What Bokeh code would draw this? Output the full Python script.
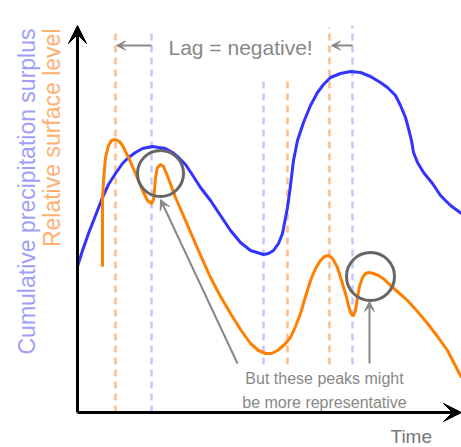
import math
from bokeh.plotting import figure
from bokeh.models import Range1d, Arrow, VeeHead
from bokeh.core.properties import value
from bokeh.embed import file_html
from bokeh.resources import INLINE

# ---- data (time in arbitrary units, level in arbitrary units) ----
blue_t = [0, 5, 11, 18, 25, 31, 38, 45, 51, 58, 65, 75, 81, 88, 95, 101, 108, 114, 123,
          133, 143, 153, 163, 173, 186, 191, 196, 201, 205, 210, 213, 216, 220, 226, 233,
          240, 246, 253, 263, 273, 283, 293, 303, 310, 318, 323, 328, 331, 334, 336, 340,
          346, 355, 363, 373, 384]
blue_v = [146, 162, 179, 197, 215, 228, 239, 249, 255, 260, 264, 266, 265, 264, 260, 255,
          248, 239, 225, 212, 197, 182, 170, 162, 158, 159, 162, 169, 179, 205, 227, 252,
          272, 290, 307, 320, 328, 335, 339, 341, 340, 336, 330, 325, 317, 307, 295, 284,
          272, 260, 250, 240, 229, 217, 207, 199]

orange_t = [25, 25, 25, 26, 28, 31, 34, 38, 42, 45, 51, 58, 65, 70, 74, 76, 77, 78, 80, 83,
            86, 91, 98, 108, 120, 133, 143, 153, 163, 173, 181, 188, 194, 200, 207, 213, 218,
            223, 228, 233, 238, 243, 247, 251, 255, 260, 264, 268, 271, 273, 275, 276, 278,
            280, 282, 285, 288, 291, 296, 301, 307, 313, 321, 330, 340, 350, 360, 370, 384]
orange_v = [146, 182, 212, 232, 255, 267, 272, 273, 271, 267, 255, 239, 222, 212, 209, 213,
            222, 235, 245, 248, 246, 234, 215, 192, 164, 135, 116, 99, 83, 69, 62, 59, 59,
            62, 68, 75, 86, 99, 116, 132, 144, 152, 156, 157, 154, 145, 132, 119, 107, 100,
            97, 97, 102, 115, 126, 135, 139, 140, 139, 137, 133, 127, 120, 112, 101, 89, 76,
            62, 35]

guide_t = [38, 74, 186, 210, 252, 275]
guide_top = [384, 384, 334, 334, 385, 387]
guide_bottom = [0, 0, 48, 48, 48, 48]
guide_kind = ["orange", "blue", "blue", "orange", "orange", "blue"]

circle_t = [83, 293]
circle_v = [239, 136]
circle_r = [23, 24]

lag_t_start = [74, 275]
lag_t_end = [39, 254]
lag_v = 367

note_tail_t = [160, 292]
note_tail_v = [49, 49]
note_tip_t = [83, 292]
note_tip_v = [213, 111]

BLUE = "#3333ff"
ORANGE = "#ff8000"
BLUE_LIGHT = "#c4c4ff"
ORANGE_LIGHT = "#ffbb88"
GRAY = "#888888"
FONT = value("Liberation Sans")

p = figure(width=461, height=447, x_range=Range1d(-77, 384), y_range=Range1d(-35, 412),
           output_backend="svg", toolbar_location=None, x_axis_type=None, y_axis_type=None,
           min_border=0)
p.grid.visible = False
p.outline_line_color = None
p.background_fill_color = "white"
p.border_fill_color = "white"

# guide lines
gcol = [ORANGE_LIGHT if k == "orange" else BLUE_LIGHT for k in guide_kind]
p.segment(x0=guide_t, y0=guide_bottom, x1=guide_t, y1=guide_top, line_color=gcol,
          line_width=2.5, line_dash="7 5")

# curves
p.line(blue_t, blue_v, line_color=BLUE, line_width=3, line_join="round")
p.line(orange_t, orange_v, line_color=ORANGE, line_width=3, line_join="round")

# circles
p.circle(x=circle_t, y=circle_v, radius=circle_r, fill_alpha=0, line_color="#666666",
         line_width=3)

# axes with arrowheads
p.add_layout(Arrow(x_start=0, y_start=0, x_end=0, y_end=387, line_color="black", line_width=3,
                   end=VeeHead(size=18, fill_color="black", line_color="black")))
p.add_layout(Arrow(x_start=0, y_start=0, x_end=384, y_end=0, line_color="black", line_width=3,
                   end=VeeHead(size=18, fill_color="black", line_color="black")))

# lag arrows
for a, b in zip(lag_t_start, lag_t_end):
    p.add_layout(Arrow(x_start=a, y_start=lag_v, x_end=b, y_end=lag_v, line_color=GRAY,
                       line_width=2, end=VeeHead(size=9, fill_color=GRAY, line_color=GRAY)))

# note arrows
for a, b, c, d in zip(note_tail_t, note_tail_v, note_tip_t, note_tip_v):
    p.add_layout(Arrow(x_start=a, y_start=b, x_end=c, y_end=d, line_color=GRAY,
                       line_width=2, end=VeeHead(size=10, fill_color=GRAY, line_color=GRAY)))

# texts
p.text(x=[91], y=[365], text=["Lag = negative!"], text_font=FONT,
       text_font_size=value("21px"), text_color=GRAY, text_align="left",
       text_baseline="alphabetic")
p.text(x=[247, 247], y=[34, 10], text=["But these peaks might", "be more representative"],
       text_font=FONT, text_font_size=value("16px"), text_color=GRAY, text_align="center",
       text_baseline="alphabetic")
p.text(x=[313], y=[-24], text=["Time"], text_font=FONT, text_font_size=value("19px"),
       text_color="#777777", text_align="left", text_baseline="alphabetic")
p.text(x=[-51], y=[384], text=["Cumulative precipitation surplus"], angle=math.pi / 2,
       text_font=FONT, text_font_size=value("23px"), text_color="#9f9ff8",
       text_align="right", text_baseline="alphabetic")
p.text(x=[-26], y=[384], text=["Relative surface level"], angle=math.pi / 2,
       text_font=FONT, text_font_size=value("23px"), text_color="#ffb070",
       text_align="right", text_baseline="alphabetic")

open("out.html", "w").write(file_html(p, INLINE))
